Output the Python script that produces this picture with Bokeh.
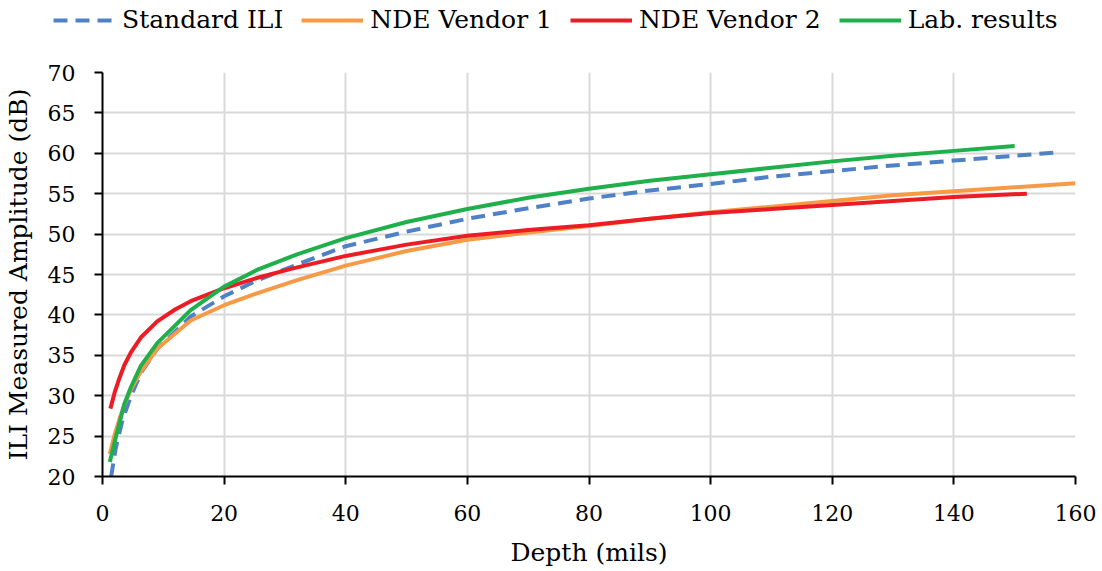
from bokeh.plotting import figure
from bokeh.models import Range1d, FixedTicker, Legend, LegendItem
from bokeh.embed import file_html
from bokeh.resources import INLINE

# ---- data ----
ili_x = [1.4, 2.2, 3.3, 4.6, 6.3, 9, 14.5, 20, 25.5, 32.6, 40, 50, 60, 70, 80, 90, 100, 110, 120, 130, 140, 150, 157]
ili_y = [19.9, 23.6, 27.0, 29.8, 32.8, 35.8, 39.8, 42.3, 44.3, 46.4, 48.5, 50.3, 51.9, 53.2, 54.4, 55.4, 56.2, 57.1, 57.8, 58.5, 59.1, 59.7, 60.1]

v1_x = [1.2, 2.0, 2.7, 3.6, 4.7, 6.3, 9, 14.5, 20, 25.5, 32, 40, 50, 60, 70, 80, 90, 100, 110, 120, 130, 140, 150, 160]
v1_y = [22.8, 25.2, 26.9, 28.9, 30.8, 33.0, 35.8, 39.3, 41.2, 42.7, 44.3, 46.1, 47.9, 49.3, 50.2, 51.0, 51.9, 52.7, 53.4, 54.1, 54.8, 55.3, 55.8, 56.3]

v2_x = [1.3, 2.0, 2.7, 3.6, 4.7, 6.3, 9, 12, 14.5, 20, 25.5, 31, 40, 50, 60, 70, 80, 90, 100, 110, 120, 130, 140, 152]
v2_y = [28.4, 30.4, 32.0, 33.8, 35.4, 37.2, 39.2, 40.7, 41.7, 43.3, 44.6, 45.7, 47.3, 48.7, 49.8, 50.5, 51.1, 51.9, 52.6, 53.1, 53.6, 54.1, 54.6, 55.0]

lab_x = [1.2, 2.2, 3.6, 4.7, 6.3, 9, 14.5, 20, 25.5, 32, 40, 50, 60, 70, 80, 90, 100, 110, 120, 130, 140, 150]
lab_y = [21.8, 24.9, 29.0, 31.1, 33.7, 36.5, 40.6, 43.5, 45.6, 47.5, 49.5, 51.5, 53.1, 54.5, 55.6, 56.6, 57.4, 58.2, 59.0, 59.7, 60.3, 60.9]

x_ticks = [0, 20, 40, 60, 80, 100, 120, 140, 160]
y_ticks = [20, 25, 30, 35, 40, 45, 50, 55, 60, 65, 70]

labels = ["Standard ILI", "NDE Vendor 1", "NDE Vendor 2", "Lab. results"]
colors = ["#4F81C7", "#F79A45", "#EC1C24", "#1FAF4B"]
dashes = ["14 8", "solid", "solid", "solid"]
series = [(ili_x, ili_y), (v1_x, v1_y), (v2_x, v2_y), (lab_x, lab_y)]

FONT = "DejaVu Serif"
LW = 4

# ---- main chart ----
p = figure(width=1100, height=530, output_backend="svg", toolbar_location=None,
           x_range=Range1d(0, 160), y_range=Range1d(20, 70),
           min_border_left=102, min_border_right=25, min_border_top=32, min_border_bottom=94)
p.outline_line_color = None
p.background_fill_color = "white"

for (xs, ys), c, d in zip(series, colors, dashes):
    p.line(xs, ys, line_color=c, line_width=LW, line_dash=d)

p.xaxis.ticker = FixedTicker(ticks=x_ticks)
p.yaxis.ticker = FixedTicker(ticks=y_ticks)
p.xaxis.axis_label = "Depth (mils)"
p.yaxis.axis_label = "ILI Measured Amplitude (dB)"

for ax in (p.xaxis[0], p.yaxis[0]):
    ax.axis_line_width = 2
    ax.axis_line_color = "black"
    ax.major_tick_line_width = 2
    ax.major_tick_line_color = "black"
    ax.major_tick_out = 8
    ax.major_tick_in = 0
    ax.minor_tick_line_color = None
    ax.major_label_text_font = FONT
    ax.major_label_text_font_size = "22px"
    ax.major_label_text_color = "black"
    ax.axis_label_text_font = FONT
    ax.axis_label_text_font_size = "25px"
    ax.axis_label_text_font_style = "normal"
    ax.axis_label_text_color = "black"

p.xaxis.major_label_standoff = 20
p.yaxis.major_label_standoff = 19
p.xaxis.axis_label_standoff = 14
p.yaxis.axis_label_standoff = 12

p.xgrid.ticker = FixedTicker(ticks=x_ticks)
p.ygrid.ticker = FixedTicker(ticks=y_ticks)
for g in (p.xgrid[0], p.ygrid[0]):
    g.grid_line_color = "#D9D9D9"
    g.grid_line_width = 2

# ---- legend strip (same series, drawn off-range so only the legend shows) ----
leg = figure(width=1100, height=40, output_backend="svg", toolbar_location=None,
             x_range=Range1d(1000, 1001), y_range=Range1d(1000, 1001),
             x_axis_location=None, y_axis_location=None,
             min_border_left=0, min_border_right=0, min_border_top=0, min_border_bottom=0)
leg.outline_line_color = None
leg.xgrid.visible = False
leg.ygrid.visible = False
items = []
for (xs, ys), c, d, lab in zip(series, colors, dashes, labels):
    r = leg.line(xs, ys, line_color=c, line_width=LW, line_dash=d)
    items.append(LegendItem(label=lab, renderers=[r]))

legend = Legend(items=items, orientation="horizontal", location=(53, 6),
                label_text_font=FONT, label_text_font_size="25px", label_text_color="black",
                glyph_width=62, glyph_height=20, label_standoff=7, spacing=18,
                border_line_color=None, background_fill_alpha=0, padding=0, margin=0)
leg.add_layout(legend, "center")

open("out.html", "w").write(file_html([leg, p], INLINE))
